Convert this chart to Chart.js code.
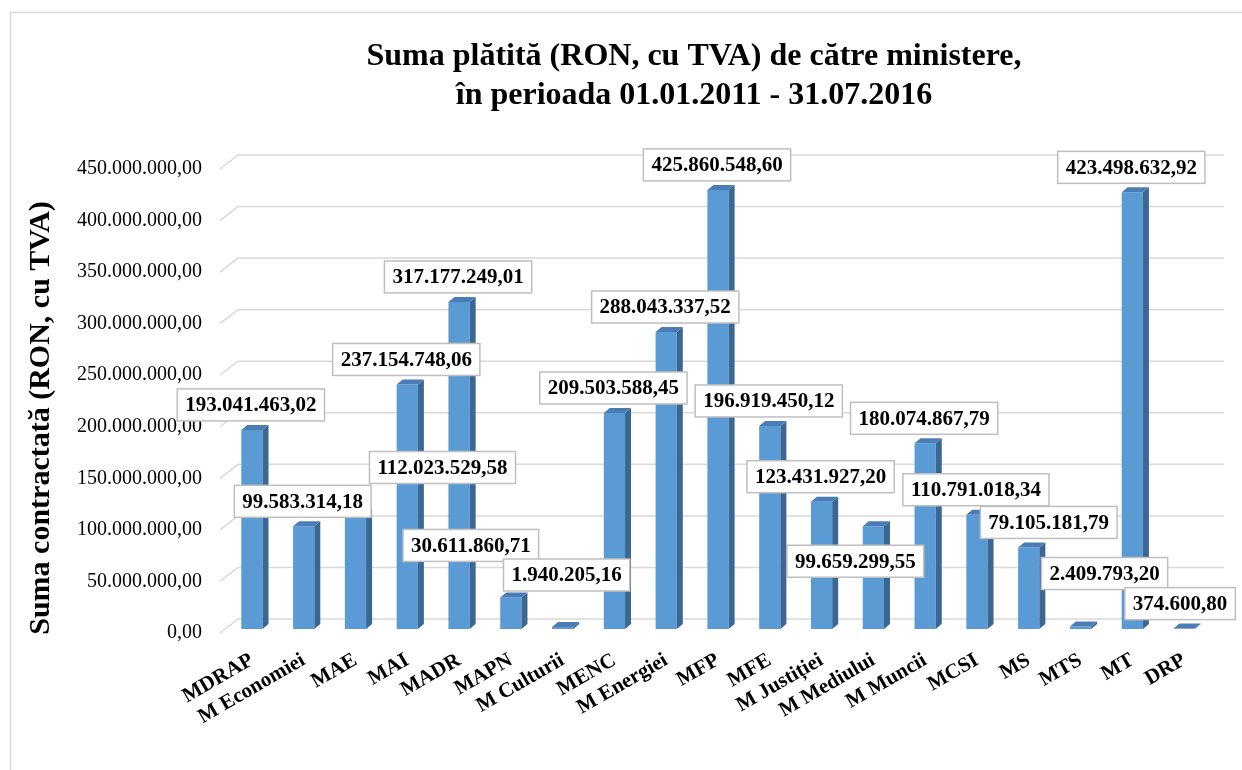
<!DOCTYPE html>
<html lang="ro">
<head>
  <meta charset="UTF-8">
  <title>Suma plătită de către ministere</title>
  <script src="https://cdn.jsdelivr.net/npm/chart.js"></script>
  <style>
    html, body { margin: 0; padding: 0; background: #fff; }
    canvas { display: block; }
  </style>
</head>
<body>
<canvas id="chart" width="1242" height="770"></canvas>

<script>
    // data
    const ministries = ['MDRAP', 'M Economiei', 'MAE', 'MAI', 'MADR', 'MAPN', 'M Culturii', 'MENC', 'M Energiei',
        'MFP', 'MFE', 'M Justiției', 'M Mediului', 'M Muncii', 'MCSI', 'MS', 'MTS', 'MT', 'DRP'];
    const amounts = [193041463.02, 99583314.18, 112023529.58, 237154748.06, 317177249.01, 30611860.71,
        1940205.16, 209503588.45, 288043337.52, 425860548.60, 196919450.12, 123431927.20, 99659299.55,
        180074867.79, 110791018.34, 79105181.79, 2409793.20, 423498632.92, 374600.80];
    const valueTicks = [0, 50000000, 100000000, 150000000, 200000000, 250000000, 300000000, 350000000, 400000000, 450000000];
    const titleLines = ['Suma plătită (RON, cu TVA) de către ministere,', 'în perioada 01.01.2011 - 31.07.2016'];
    const yTitle = 'Suma contractată (RON, cu TVA)';

    // where excel moved some value boxes away from their bar (px)
    const boxShift = [[0, 0], [0, 0], [88, -21], [0, 0], [0, 0], [-39, -27], [5, -27], [0, 0], [0, 0], [0, 0],
        [0, 0], [0, 0], [-17, 60], [0, 0], [0, 0], [21, 0], [25, -28], [0, 0], [-3, 0]];

    const SERIF = "'Liberation Serif', 'Times New Roman', serif";

    // 193041463.02 -> 193.041.463,02
    function ro(n) {
        const parts = n.toFixed(2).split('.');
        return parts[0].replace(/\B(?=(\d{3})+(?!\d))/g, '.') + ',' + parts[1];
    }

    const excelLook = {
        id: 'excelLook',
        beforeDatasetsDraw(chart) {
            // 3d-ish grid lines: short slant at the front, then flat along the back wall
            const ctx = chart.ctx;
            const area = chart.chartArea;
            const y = chart.scales.y;
            ctx.save();
            ctx.strokeStyle = '#d9d9d9';
            ctx.lineWidth = 1.5;
            valueTicks.forEach(v => {
                const yf = y.getPixelForValue(v) + 4;
                ctx.beginPath();
                ctx.moveTo(area.left - 6, yf);
                ctx.lineTo(area.left + 12, yf - 14);
                ctx.lineTo(area.right + 14, yf - 14);
                ctx.stroke();
            });
            ctx.restore();
        },
        afterDatasetsDraw(chart) {
            const ctx = chart.ctx;
            const bars = chart.getDatasetMeta(0).data;
            const dx = 6, dy = 5;
            ctx.save();
            bars.forEach(b => {
                const l = b.x - b.width / 2, r = b.x + b.width / 2;
                // side
                ctx.fillStyle = '#3c6792';
                ctx.beginPath();
                ctx.moveTo(r, b.y);
                ctx.lineTo(r + dx, b.y - dy);
                ctx.lineTo(r + dx, b.base - dy);
                ctx.lineTo(r, b.base);
                ctx.closePath();
                ctx.fill();
                // top
                ctx.fillStyle = '#4a7db6';
                ctx.beginPath();
                ctx.moveTo(l, b.y);
                ctx.lineTo(l + dx, b.y - dy);
                ctx.lineTo(r + dx, b.y - dy);
                ctx.lineTo(r, b.y);
                ctx.closePath();
                ctx.fill();
            });

            // value boxes
            ctx.font = 'bold 21px ' + SERIF;
            ctx.textAlign = 'center';
            ctx.textBaseline = 'middle';
            bars.forEach((b, i) => {
                const txt = ro(amounts[i]);
                const w = ctx.measureText(txt).width + 16, h = 32;
                const cx = b.x - 1 + boxShift[i][0];
                const cy = b.y - 25 + boxShift[i][1];
                ctx.fillStyle = '#fff';
                ctx.fillRect(cx - w / 2, cy - h / 2, w, h);
                ctx.strokeStyle = '#bfbfbf';
                ctx.lineWidth = 1.5;
                ctx.strokeRect(cx - w / 2, cy - h / 2, w, h);
                ctx.fillStyle = '#000';
                ctx.fillText(txt, cx, cy + 1);
            });
            ctx.restore();
        },
        afterDraw(chart) {
            const ctx = chart.ctx;
            ctx.save();
            // chart frame (left + top edges visible)
            ctx.strokeStyle = '#d9d9d9';
            ctx.lineWidth = 1.5;
            ctx.beginPath();
            ctx.moveTo(10.5, 770);
            ctx.lineTo(10.5, 12.5);
            ctx.lineTo(1242, 12.5);
            ctx.stroke();

            ctx.fillStyle = '#000';
            ctx.textAlign = 'center';
            ctx.textBaseline = 'middle';
            ctx.font = 'bold 32px ' + SERIF;
            ctx.fillText(titleLines[0], 694, 57);
            ctx.fillText(titleLines[1], 694, 96);

            ctx.translate(41, 418);
            ctx.rotate(-Math.PI / 2);
            ctx.font = 'bold 30px ' + SERIF;
            ctx.fillText(yTitle, 0, 0);
            ctx.restore();
        }
    };

    new Chart(document.getElementById('chart'), {
        type: 'bar',
        data: {
            labels: ministries,
            datasets: [{
                data: amounts,
                backgroundColor: '#5b9bd5',
                borderWidth: 0,
                barPercentage: 0.41,
                categoryPercentage: 1.0
            }]
        },
        options: {
            responsive: false,
            devicePixelRatio: 1,
            animation: false,
            layout: { padding: { left: 12, top: 165, right: 32, bottom: 0 } },
            plugins: {
                legend: { display: false },
                title: { display: false },
                tooltip: { enabled: false }
            },
            scales: {
                x: {
                    grid: { display: false, drawTicks: false },
                    border: { display: false },
                    ticks: {
                        autoSkip: false,
                        minRotation: 30,
                        maxRotation: 30,
                        padding: 19,
                        color: '#000',
                        font: { family: SERIF, size: 21, weight: 'bold' }
                    },
                    afterFit: s => { s.height = 141; }
                },
                y: {
                    min: 0,
                    max: 450000000,
                    grid: { display: false, drawTicks: false },
                    border: { display: false },
                    afterBuildTicks: s => { s.ticks = valueTicks.map(v => ({ value: v })); },
                    ticks: {
                        padding: 24,
                        labelOffset: 4,
                        color: '#000',
                        font: { family: SERIF, size: 20 },
                        callback: v => ro(v)
                    },
                    afterFit: s => { s.width = 214; }
                }
            }
        },
        plugins: [excelLook]
    });
</script>
</body>
</html>
